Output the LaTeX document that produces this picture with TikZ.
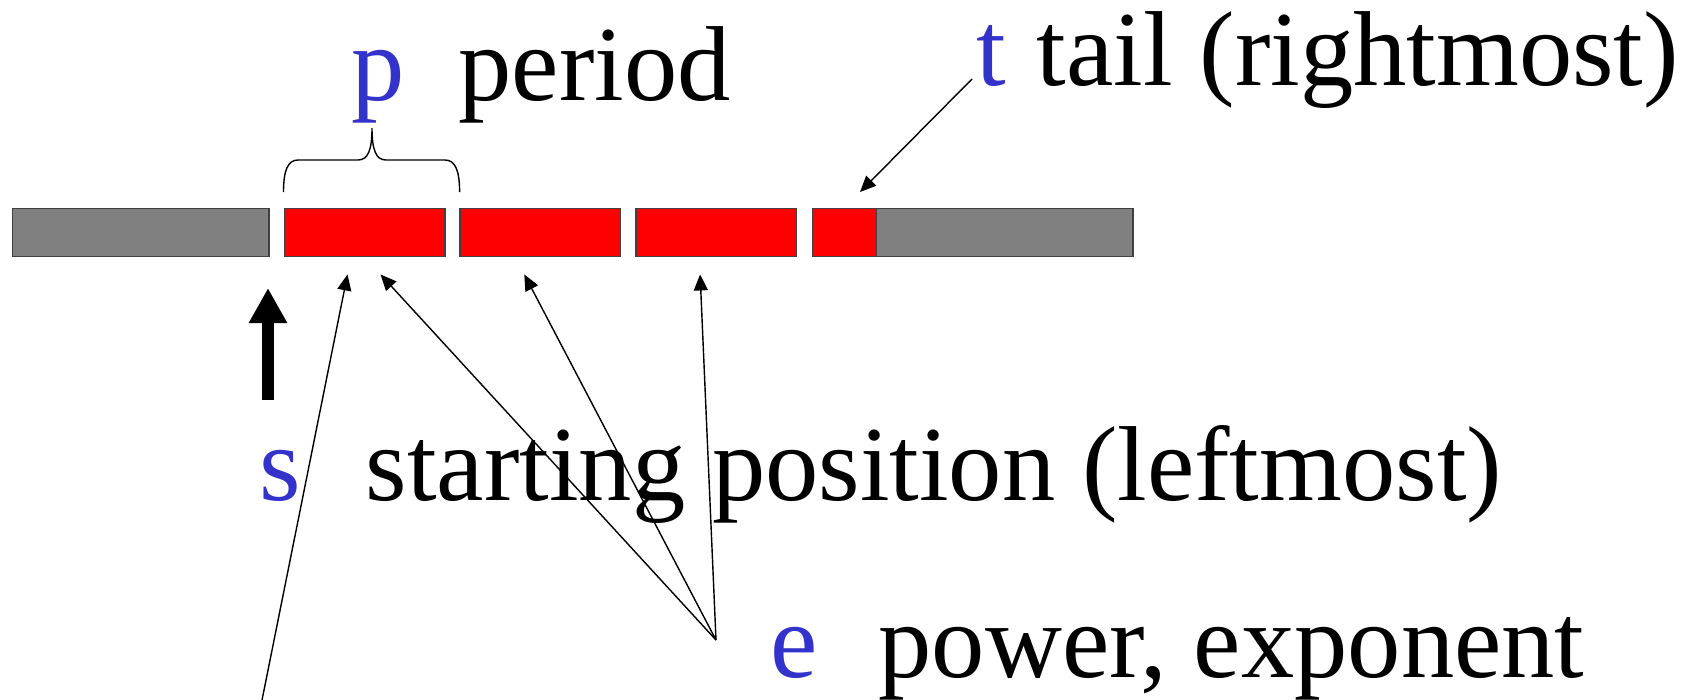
\documentclass[tikz,border=0pt]{standalone}
\usepackage{fontspec}
\setmainfont{Liberation Serif}
\usetikzlibrary{arrows.meta,calc}
\definecolor{Letter}{HTML}{3333CC}
\definecolor{Seg}{HTML}{FF0000}
\definecolor{Rest}{HTML}{808080}
\definecolor{Edge}{HTML}{404040}

\begin{document}
\begin{tikzpicture}[x=.01cm,y=-.01cm,
    seg/.style={draw=Edge,line width=.4pt,minimum height=.48cm,inner sep=0pt,anchor=north west},
    lbl/.style={inner sep=0pt,anchor=base west,font=\fontsize{30.3}{36}\selectfont},
    var/.style={lbl,text=Letter},
    pointer/.style={-{Triangle[length=1.6mm,width=1.4mm]},line width=.4pt}]
  \useasboundingbox(0,0)rectangle(1691,699);
  % the string: prefix, repeated blocks, tail, rest
  \node[seg,fill=Rest,minimum width=2.56cm](left)at(12,208){};
  \foreach \i in {1,2,3}
    \node[seg,fill=Seg,minimum width=1.605cm](rep\i)at({283.5+175.8*(\i-1)},208){};
  \node[seg,fill=Seg,minimum width=.64cm](rep4)at(812,208){};
  \node[seg,fill=Rest,minimum width=2.56cm](right)at(876,208){};
  % labels
  \node[var](pvar)at(351,100){p};
  \node[lbl](pname)at(458,100){period};
  \node[var](tvar)at(976,85){t};
  \node[lbl](tname)at(1036,85){tail (rightmost)};
  \node[var](svar)at(259,500){s};
  \node[lbl](sname)at(365,500){starting position (leftmost)};
  \node[var](evar)at(770,677){e};
  \node[lbl](ename)at(878,677){power, exponent};
  % brace over one period
  \draw[line width=.4pt](283.5,192)..controls(283.5,170)and(288,160)..(298,160)--(358,160)
    ..controls(368,160)and(372,150)..(372,128)
    ..controls(372,150)and(376,160)..(386,160)--(445,160)
    ..controls(455,160)and(459.6,170)..(459.6,192);
  % start marker
  \coordinate(sfoot)at(268,400);
  \coordinate(stip)at(268,288);
  \draw[line width=.115cm,-{Triangle[length=3.5mm,width=3.6mm]}](sfoot)--(stip);
  % pointers
  \coordinate(ttail)at($(tvar.base west)+(-4,-6)$);
  \draw[pointer](ttail)--($(rep4.north west)+(48,-16)$);
  \coordinate(epoint)at(716,640);
  \draw[pointer](epoint)--($(rep1.south)+(16,17)$);
  \draw[pointer](epoint)--($(rep2.south)+(-16,17)$);
  \draw[pointer](epoint)--($(rep3.south)+(-16,17)$);
  \coordinate(low)at(258,720);
  \draw[pointer](low)--($(rep1.south)+(-17,17)$);
\end{tikzpicture}
\end{document}
